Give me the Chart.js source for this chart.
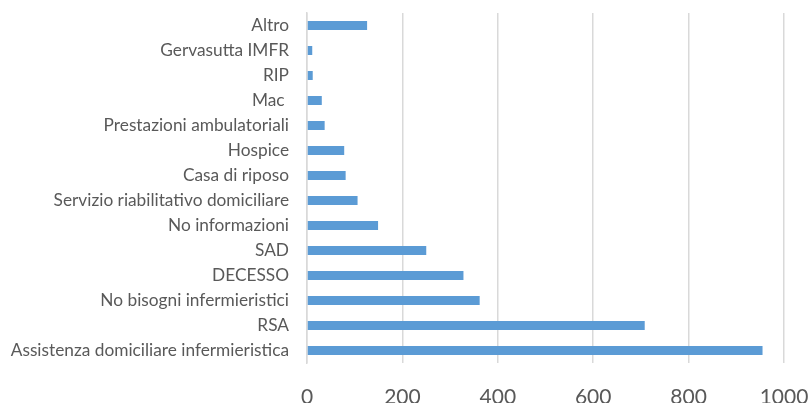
<!DOCTYPE html>
<html>
<head>
<meta charset="utf-8">
<script src="https://cdn.jsdelivr.net/npm/chart.js@4"></script>
<style>
  html, body { margin: 0; padding: 0; background: #fff; }
  #wrap { width: 809px; height: 403px; }
</style>
</head>
<body>
<div id="wrap"><canvas id="chart" width="809" height="403"></canvas></div>
<script>
// categories, top to bottom as drawn
const categories = [
  "Altro",
  "Gervasutta IMFR",
  "RIP",
  "Mac ",
  "Prestazioni ambulatoriali",
  "Hospice",
  "Casa di riposo",
  "Servizio riabilitativo domiciliare",
  "No informazioni",
  "SAD",
  "DECESSO",
  "No bisogni infermieristici",
  "RSA",
  "Assistenza domiciliare infermieristica"
];
const values = [126, 11, 12, 31, 37, 78, 81, 106, 149, 250, 328, 362, 708, 955];
const xTicks = [0, 200, 400, 600, 800, 1000];

const ctx = document.getElementById("chart").getContext("2d");
new Chart(ctx, {
  type: "bar",
  data: {
    labels: categories,
    datasets: [{
      data: values,
      backgroundColor: "#5B9BD5",
      borderWidth: 0,
      categoryPercentage: 1,
      barPercentage: 0.36
    }]
  },
  options: {
    indexAxis: "y",
    responsive: false,
    animation: false,
    layout: { padding: { top: 13, right: 25, left: 0, bottom: 0 } },
    plugins: {
      legend: { display: false },
      tooltip: { enabled: false }
    },
    scales: {
      x: {
        min: xTicks[0],
        max: xTicks[xTicks.length - 1],
        afterBuildTicks: (scale) => {
          scale.ticks = xTicks.map((v) => ({ value: v }));
        },
        afterFit: (scale) => {
          scale.height = 40;
          scale.paddingLeft = 0;
          scale.paddingRight = 0;
        },
        grid: { color: "#d9d9d9", lineWidth: 1.5, drawTicks: false },
        border: { display: false },
        ticks: {
          color: "#595959",
          padding: 22,
          maxRotation: 0,
          callback: (v) => String(v),
          font: { family: "Lato", size: 21 }
        }
      },
      y: {
        afterFit: (scale) => {
          scale.width = 307;
          scale.paddingTop = 0;
          scale.paddingBottom = 0;
        },
        grid: { display: false, drawTicks: false },
        border: { display: true, color: "#d9d9d9", width: 1.5 },
        ticks: {
          color: "#595959",
          padding: 18,
          font: { family: "Lato", size: 17.3 }
        }
      }
    }
  }
});
</script>
</body>
</html>
